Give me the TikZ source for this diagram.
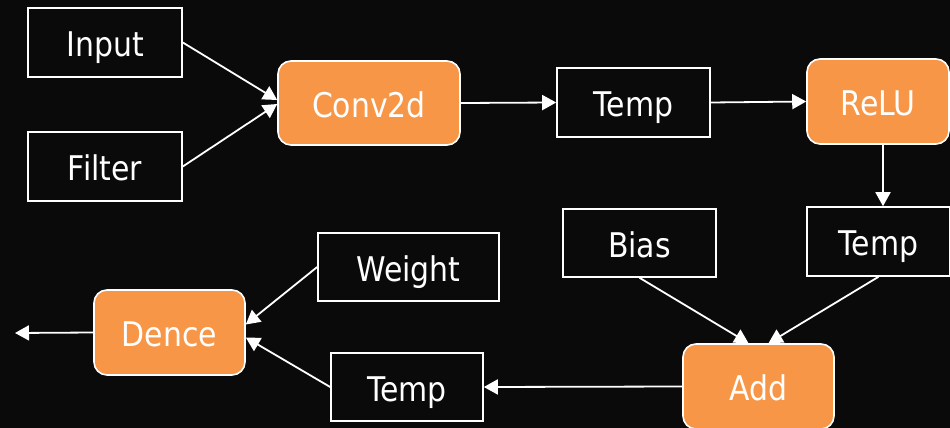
\documentclass[tikz,border=0pt]{standalone}
\usepackage{fontspec}
\setmainfont{DejaVu Sans}[FakeStretch=0.88]
\usetikzlibrary{arrows.meta}
\definecolor{bg}{HTML}{0A0A0A}
\definecolor{opfill}{HTML}{F79646}
\tikzset{
  box/.style={draw=white, line width=1.6pt, text=white, inner sep=0pt,
    text height=28pt, text depth=0pt,
    font=\fontsize{34}{40}\selectfont},
  data/.style={box, fill=bg},
  op/.style={box, fill=opfill, rounded corners=13pt},
  flow/.style={draw=white, line width=1.8pt, -{Triangle[length=14pt,width=15pt]}}
}
\begin{document}
\begin{tikzpicture}[x=1pt,y=-1pt]
  \fill[bg] (0,0) rectangle (950,428);
  \useasboundingbox (0,0) rectangle (950,428);

  % data nodes
  \node[data, minimum width=154pt, minimum height=69pt] (input)  at (105,42.5)  {Input};
  \node[data, minimum width=154pt, minimum height=69pt] (filter) at (105,166.5) {Filter};
  \node[data, minimum width=153pt, minimum height=69pt] (temp1)  at (633.5,102.5) {Temp};
  \node[data, minimum width=143pt, minimum height=69pt] (temp2)  at (878.5,241.5) {Temp};
  \node[data, minimum width=153pt, minimum height=68pt] (bias)   at (639.5,243) {Bias};
  \node[data, minimum width=152pt, minimum height=68pt] (temp3)  at (407,387) {Temp};
  \node[data, minimum width=181pt, minimum height=68pt] (weight) at (408.5,267) {Weight};

  % operation nodes
  \node[op, minimum width=182pt, minimum height=84pt] (conv)  at (369,103)   {Conv2d};
  \node[op, minimum width=142pt, minimum height=85pt] (relu)  at (878,101.5) {ReLU};
  \node[op, minimum width=151pt, minimum height=85pt] (add)   at (758.5,386.5) {Add};
  \node[op, minimum width=151pt, minimum height=85pt] (dence) at (169.5,332.5) {Dence};

  \coordinate (out) at (15,333);

  % connectors
  \draw[flow] (input.east)  -- ([yshift=3pt]conv.west);
  \draw[flow] (filter.east) -- ([yshift=-1pt]conv.west);
  \draw[flow] (conv.east)   -- (temp1.west);
  \draw[flow] (temp1.east)  -- (relu.west);
  \draw[flow] ([xshift=5pt]relu.south) -- ([xshift=5pt]relu.south |- temp2.north);
  \draw[flow] (bias.south)  -- ([xshift=-10pt]add.north);
  \draw[flow] (temp2.south) -- ([xshift=10pt]add.north);
  \draw[flow] (add.west)    -- (temp3.east);
  \draw[flow] (weight.west) -- ([yshift=8pt]dence.east);
  \draw[flow] (temp3.west)  -- ([yshift=-5pt]dence.east);
  \draw[flow] (dence.west)  -- (out);
\end{tikzpicture}
\end{document}
